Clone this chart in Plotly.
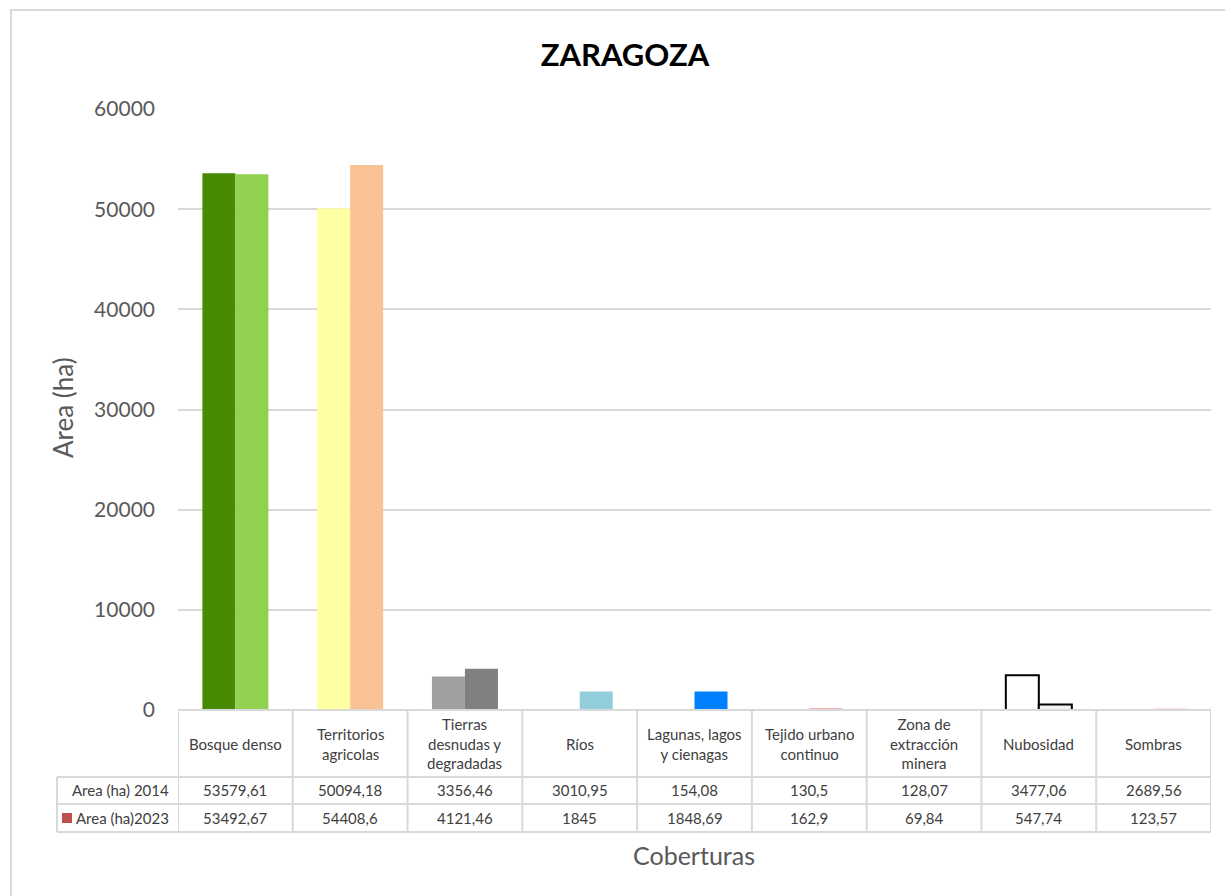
import plotly.graph_objects as go

# ---------------- data ----------------
categories = ["Bosque denso", "Territorios agricolas", "Tierras desnudas y degradadas",
              "Ríos", "Lagunas, lagos y cienagas", "Tejido urbano continuo",
              "Zona de extracción minera", "Nubosidad", "Sombras"]
header_labels = ["Bosque denso", "Territorios<br>agricolas", "Tierras<br>desnudas y<br>degradadas",
                 "Ríos", "Lagunas, lagos<br>y cienagas", "Tejido urbano<br>continuo",
                 "Zona de<br>extracción<br>minera", "Nubosidad", "Sombras"]
area_2014 = [53579.61, 50094.18, 3356.46, 3010.95, 154.08, 130.5, 128.07, 3477.06, 2689.56]
area_2023 = [53492.67, 54408.6, 4121.46, 1845, 1848.69, 162.9, 69.84, 547.74, 123.57]
series_names = ["Area (ha) 2014", "Area (ha)2023"]
y_ticks = [0, 10000, 20000, 30000, 40000, 50000, 60000]

colors_2014 = ["#478C00", "#FFFFA3", "#A0A0A0", "#FFFFFF", "#FFFFFF", "#FFFFFF", "#FFFFFF", "#FFFFFF", "#FFFFFF"]
colors_2023 = ["#92D050", "#F9C294", "#808080", "#92CDDC", "#0080FF", "#F2B4B4", "#FFFFFF", "#F2F2F2", "#FBE2E2"]
lines_2014 = [0, 0, 0, 0, 0, 0, 0, 2, 0]
lines_2023 = [0, 0, 0, 0, 0, 0, 0, 2, 0]

# ---------------- layout geometry (pixels) ----------------
W, H = 1225, 896
L, R, T, B = 178, 1211, 109, 710
PW, PH = R - L, B - T


def px(x):
    return (x - L) / PW


def py(y):
    return (B - y) / PH


def fmt(v):
    s = f"{v:.2f}".rstrip("0").rstrip(".")
    return s.replace(".", ",")


FONT = "Lato, Carlito, Calibri, sans-serif"
GRID = "#D9D9D9"
TXT = "#404040"
TS = 15

fig = go.Figure()
fig.add_trace(go.Bar(x=categories, y=area_2014, name=series_names[0],
                     marker=dict(color=colors_2014, line=dict(color="#000000", width=lines_2014))))
fig.add_trace(go.Bar(x=categories, y=area_2023, name=series_names[1],
                     marker=dict(color=colors_2023, line=dict(color="#000000", width=lines_2023))))

shapes = []
# outer chart border
shapes.append(dict(type="rect", xref="paper", yref="paper", x0=px(11), x1=px(1240), y0=py(910), y1=py(10),
                   line=dict(color="#D9D9D9", width=2), fillcolor="rgba(0,0,0,0)", layer="below"))
# table horizontal lines
shapes.append(dict(type="line", xref="paper", yref="paper", x0=px(L), x1=px(R), y0=py(710), y1=py(710),
                   line=dict(color=GRID, width=2)))
for yy in [777, 804, 832]:
    shapes.append(dict(type="line", xref="paper", yref="paper", x0=px(57), x1=px(R), y0=py(yy), y1=py(yy),
                       line=dict(color=GRID, width=2)))
# table vertical lines at category boundaries
for i in range(len(categories) + 1):
    shapes.append(dict(type="line", xref="x", yref="paper", x0=i - 0.5, x1=i - 0.5, y0=py(710), y1=py(832),
                       line=dict(color=GRID, width=2)))
shapes.append(dict(type="line", xref="paper", yref="paper", x0=px(57), x1=px(57), y0=py(777), y1=py(832),
                   line=dict(color=GRID, width=2)))
# legend key for 2023 row
shapes.append(dict(type="rect", xref="paper", yref="paper", x0=px(62), x1=px(72), y0=py(823), y1=py(813),
                   line=dict(width=0), fillcolor="#C0504D"))

ann = []
for c, lab, v1, v2 in zip(categories, header_labels, area_2014, area_2023):
    ann.append(dict(x=c, xref="x", y=py(743.5), yref="paper", text=lab, showarrow=False,
                    font=dict(size=TS, color=TXT, family=FONT), yanchor="middle", xanchor="center"))
    ann.append(dict(x=c, xref="x", y=py(790.5), yref="paper", text=fmt(v1), showarrow=False,
                    font=dict(size=TS, color=TXT, family=FONT), yanchor="middle", xanchor="center"))
    ann.append(dict(x=c, xref="x", y=py(818), yref="paper", text=fmt(v2), showarrow=False,
                    font=dict(size=TS, color=TXT, family=FONT), yanchor="middle", xanchor="center"))
for name, yy in zip(series_names, [790.5, 818]):
    ann.append(dict(x=px(171), xref="paper", y=py(yy), yref="paper", text=name, showarrow=False,
                    font=dict(size=TS, color=TXT, family=FONT), yanchor="middle", xanchor="right"))
ann.append(dict(x=px(694), xref="paper", y=py(855), yref="paper", text="Coberturas", showarrow=False,
                font=dict(size=25, color="#595959", family=FONT), yanchor="middle", xanchor="center"))
ann.append(dict(x=px(63), xref="paper", y=py(408), yref="paper", text="Area (ha)", showarrow=False,
                textangle=-90, font=dict(size=26, color="#595959", family=FONT),
                yanchor="middle", xanchor="center"))

fig.update_layout(
    width=W, height=H,
    margin=dict(l=L, r=W - R, t=T, b=H - B, pad=0),
    paper_bgcolor="white", plot_bgcolor="white",
    barmode="group", bargap=0.425, bargroupgap=0,
    showlegend=False,
    title=dict(text="<b>ZARAGOZA</b>", xref="container", yref="container", x=625 / W, y=1 - 55 / H,
               xanchor="center", yanchor="middle", font=dict(size=31, color="#000000", family=FONT)),
    xaxis=dict(range=[-0.5, len(categories) - 0.5], showticklabels=False, showgrid=False,
               zeroline=False, showline=False, ticks=""),
    yaxis=dict(range=[0, 60000], tickvals=y_ticks, ticktext=[str(t) for t in y_ticks],
               showgrid=True, gridcolor=GRID, gridwidth=1.5, zeroline=False, showline=False,
               ticks="", ticklabelstandoff=22,
               tickfont=dict(size=21, color="#595959", family=FONT)),
    shapes=shapes, annotations=ann,
)

fig.write_html("out.html", config={"displayModeBar": False},
               post_script="document.body.style.margin='0';")
